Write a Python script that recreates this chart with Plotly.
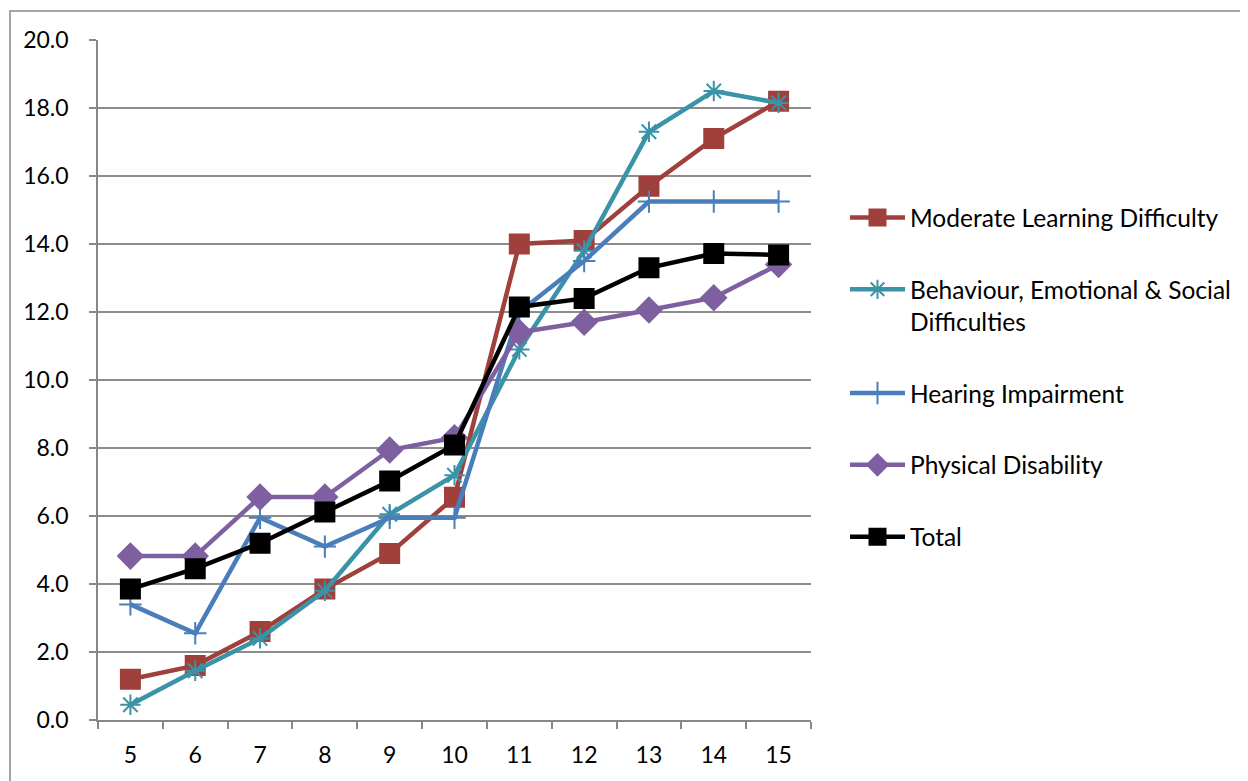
import plotly.graph_objects as go

ages = ["5", "6", "7", "8", "9", "10", "11", "12", "13", "14", "15"]

mld = [1.2, 1.6, 2.6, 3.85, 4.9, 6.55, 14.0, 14.1, 15.7, 17.1, 18.2]
besd = [0.45, 1.45, 2.4, 3.8, 6.05, 7.2, 10.9, 13.8, 17.3, 18.5, 18.15]
hearing = [3.4, 2.55, 5.95, 5.1, 5.95, 5.95, 12.0, 13.5, 15.25, 15.25, 15.25]
physical = [4.82, 4.82, 6.56, 6.56, 7.94, 8.3, 11.4, 11.7, 12.06, 12.42, 13.4]
total = [3.85, 4.45, 5.2, 6.12, 7.03, 8.09, 12.15, 12.4, 13.3, 13.72, 13.68]

names = [
    "Moderate Learning Difficulty",
    "Behaviour, Emotional & Social<br>Difficulties",
    "Hearing Impairment",
    "Physical Disability",
    "Total",
]
series = [mld, besd, hearing, physical, total]
colors = ["#A0403C", "#3A93A6", "#4A7EBB", "#7E60A0", "#000000"]
symbols = ["square", "asterisk-open", "cross-thin-open", "diamond", "square"]
sizes = [19, 17, 16, 19, 19]

fig = go.Figure()
for i, (n, s, c, sym, sz) in enumerate(zip(names, series, colors, symbols, sizes)):
    fig.add_trace(go.Scatter(
        x=ages, y=s, name=n, mode="lines+markers",
        legendgroup=f"g{i}",
        line=dict(color=c, width=4.5),
        marker=dict(symbol=sym, size=sz, color=c,
                    line=dict(color=c, width=2)),
    ))

W, H = 1240, 773
L, T = 90, 32
PW, PH = 713, 680
font = "Lato, 'Open Sans', sans-serif"
fig.update_layout(
    width=W, height=H,
    margin=dict(l=L, r=W - L - PW, t=T, b=H - T - PH),
    paper_bgcolor="white", plot_bgcolor="white",
    font=dict(family=font, size=23, color="black"),
    showlegend=True,
    legend=dict(x=(845 - 98) / PW, y=1 - (195 - 40) / PH,
                xanchor="left", yanchor="top", valign="top",
                tracegroupgap=37, font=dict(size=24.5),
                itemwidth=55, bgcolor="rgba(0,0,0,0)"),
    xaxis=dict(type="category", range=[-0.5, len(ages) - 0.5],
               tickson="boundaries", ticks="outside",
               ticklen=7, tickcolor="#888", tickwidth=1.5,
               showline=True, linecolor="#888", linewidth=1.5,
               showgrid=False, ticklabelstandoff=14),
    yaxis=dict(range=[0, 20], dtick=2, tickformat=".1f",
               ticks="outside", ticklen=7, tickcolor="#888", tickwidth=1.5,
               showline=True, linecolor="#888", linewidth=1.5,
               showgrid=True, gridcolor="#8c8c8c", gridwidth=1.5,
               zeroline=False, ticklabelstandoff=16),
)
fig.add_shape(type="rect", xref="paper", yref="paper",
              x0=(10 - 98) / PW, x1=(1270 - 98) / PW,
              y0=-(820 - 720) / PH, y1=1 + (40 - 11) / PH,
              line=dict(color="#888", width=1.5), layer="below")

fig.write_html("out.html")
